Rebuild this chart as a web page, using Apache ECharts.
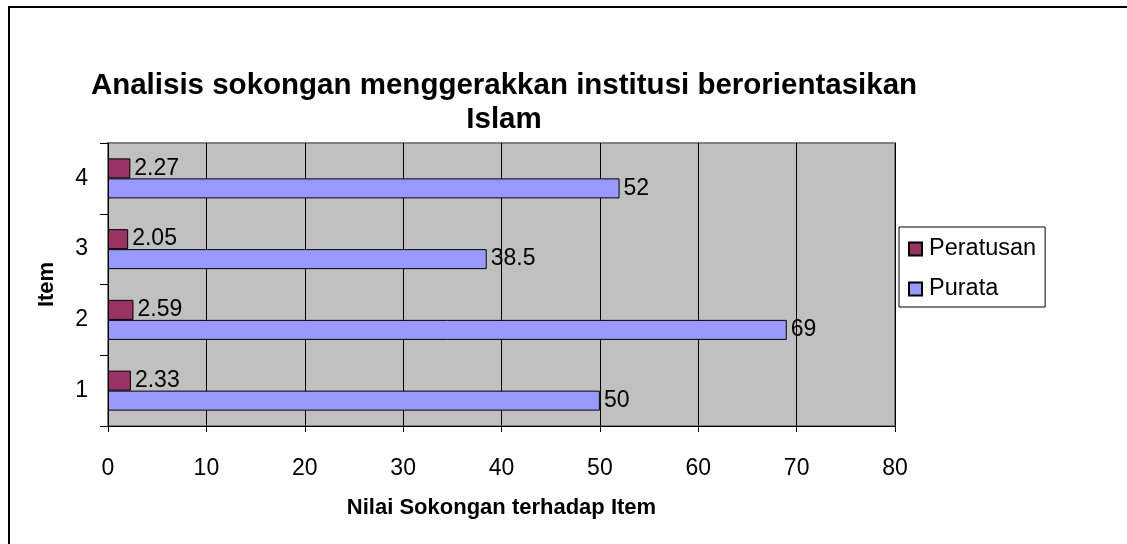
<!DOCTYPE html>
<html>
<head>
<meta charset="utf-8">
<script src="https://cdn.jsdelivr.net/npm/echarts@6/dist/echarts.min.js"></script>
<style>
html, body { margin: 0; padding: 0; background: #fff; }
#chart { width: 1127px; height: 544px; }
</style>
</head>
<body>
<div id="chart"></div>
<script>
var items = ['1', '2', '3', '4'];
var peratusan = [2.33, 2.59, 2.05, 2.27];
var purata = [50, 69, 38.5, 52];
var xTicks = [0, 80, 10];

var FONT = '"Liberation Sans", Arial, sans-serif';

var myChart = echarts.init(document.getElementById('chart'));

var option = {
	backgroundColor: '#fff',
	textStyle: {
		fontFamily: FONT
	},
	graphic: [{
		type: 'rect',
		shape: { x: 9, y: 7, width: 1200, height: 600 },
		style: { fill: 'none', stroke: '#000', lineWidth: 2 }
	}, {
		type: 'text',
		x: 504,
		y: 69,
		style: {
			text: 'Analisis sokongan menggerakkan institusi berorientasikan\nIslam',
			textAlign: 'center',
			fontFamily: FONT,
			fontSize: 29.5,
			fontWeight: 'bold',
			lineHeight: 34,
			fill: '#000'
		}
	}],
	legend: {
		orient: 'vertical',
		left: 899,
		top: 227,
		data: ['Peratusan', 'Purata'],
		icon: 'rect',
		itemWidth: 13,
		itemHeight: 13,
		itemGap: 16,
		padding: [10, 9, 6, 9],
		backgroundColor: '#fff',
		borderColor: '#000',
		borderWidth: 1,
		borderRadius: 0,
		textStyle: {
			fontFamily: FONT,
			fontSize: 23.5,
			color: '#000',
			padding: [0, 0, 0, 2]
		}
	},
	grid: {
		left: 108,
		right: 232,
		top: 143,
		bottom: 118,
		show: true,
		backgroundColor: '#c0c0c0',
		borderColor: '#808080',
		borderWidth: 2
	},
	xAxis: {
		type: 'value',
		min: xTicks[0],
		max: xTicks[1],
		interval: xTicks[2],
		name: 'Nilai Sokongan terhadap Item',
		nameLocation: 'middle',
		nameGap: 71,
		nameTextStyle: {
			fontFamily: FONT,
			fontSize: 22,
			fontWeight: 'bold',
			color: '#000'
		},
		axisLine: { show: true, lineStyle: { color: '#000', width: 1 } },
		axisTick: { show: true, inside: false, length: 6, lineStyle: { color: '#000' } },
		axisLabel: {
			fontFamily: FONT,
			fontSize: 23,
			color: '#000',
			margin: 31
		},
		splitLine: { show: true, lineStyle: { color: '#000', width: 1 } }
	},
	yAxis: {
		type: 'category',
		data: items,
		name: 'Item',
		nameLocation: 'middle',
		nameGap: 50,
		nameRotate: 90,
		nameTextStyle: {
			fontFamily: FONT,
			fontSize: 22,
			fontWeight: 'bold',
			color: '#000'
		},
		axisLine: { show: true, lineStyle: { color: '#000', width: 1 } },
		axisTick: { show: true, inside: false, length: 8, alignWithLabel: false, lineStyle: { color: '#000' } },
		axisLabel: {
			fontFamily: FONT,
			fontSize: 23,
			color: '#000',
			margin: 20
		},
		splitLine: { show: false }
	},
	series: [{
		name: 'Peratusan',
		type: 'bar',
		data: peratusan,
		barWidth: 20,
		barGap: 0,
		itemStyle: { color: '#993366', borderColor: '#000', borderWidth: 1 },
		label: {
			show: true,
			position: 'right',
			distance: 4,
			fontFamily: FONT,
			fontSize: 23,
			color: '#000'
		}
	}, {
		name: 'Purata',
		type: 'bar',
		data: purata,
		barWidth: 20,
		barGap: 0,
		itemStyle: { color: '#9999ff', borderColor: '#000', borderWidth: 1 },
		label: {
			show: true,
			position: 'right',
			distance: 4,
			fontFamily: FONT,
			fontSize: 23,
			color: '#000'
		}
	}]
};

myChart.setOption(option);
</script>
</body>
</html>
